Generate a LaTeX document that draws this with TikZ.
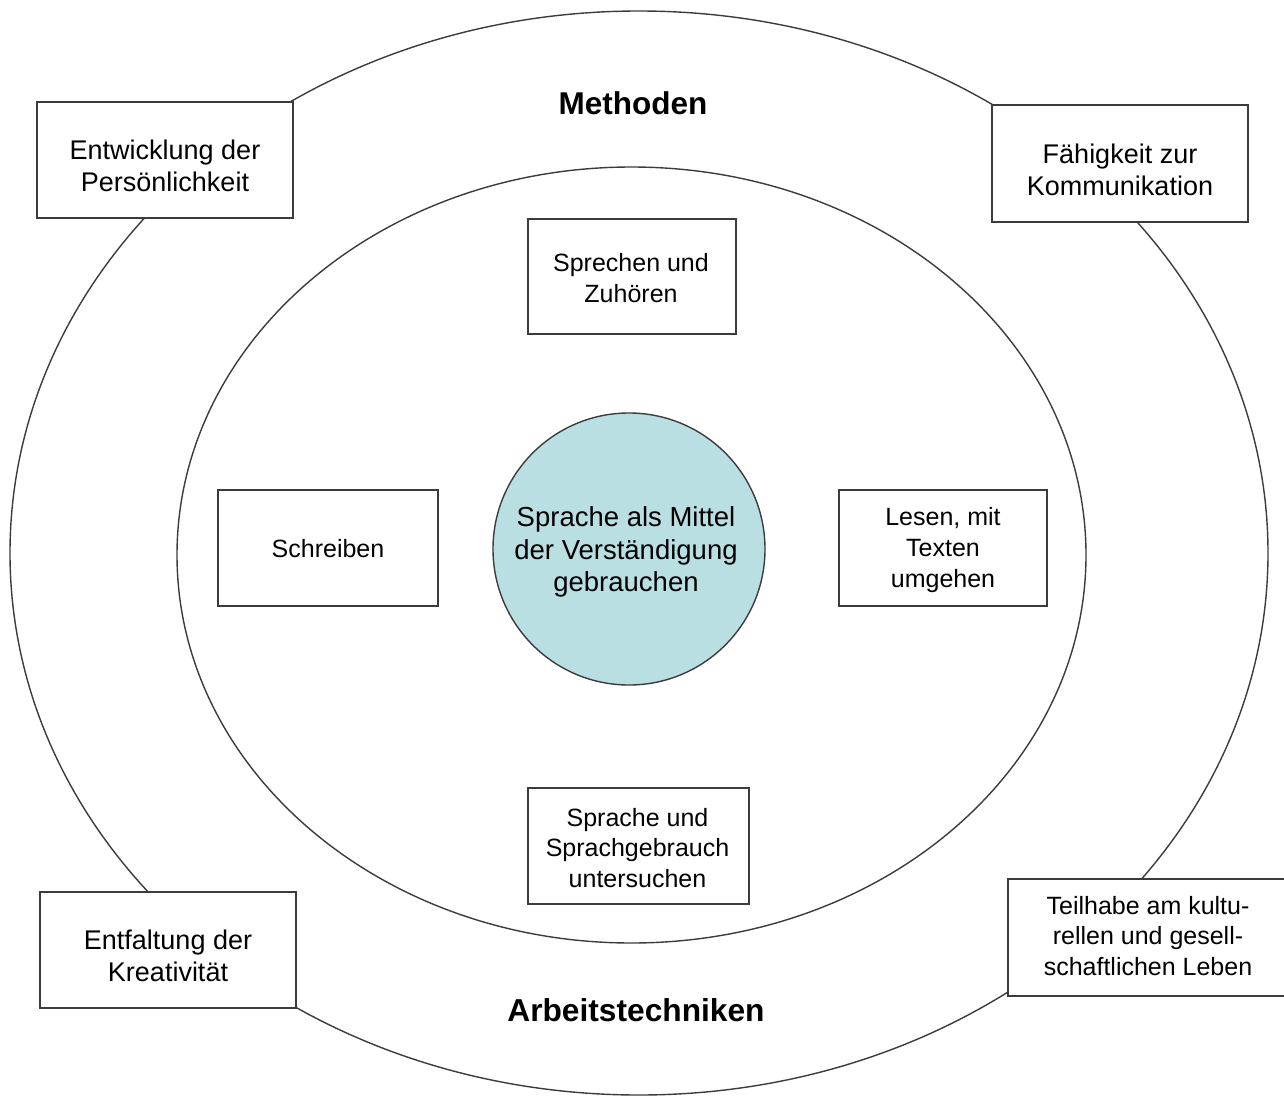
\documentclass[tikz,border=0pt]{standalone}
\usepackage{fontspec}
\setmainfont{Liberation Sans}
\definecolor{lineg}{RGB}{60,60,60}
\definecolor{centerblue}{RGB}{186,223,227}
\begin{document}
\begin{tikzpicture}[x=1pt,y=-1pt,
  ring/.style={draw=lineg,line width=1.4pt},
  topicbox/.style={draw=lineg,line width=1.4pt,fill=white,rectangle,inner sep=0pt},
  boxtext/.style={inner sep=0pt,align=center,font=\fontsize{27}{32}\selectfont},
  smalltext/.style={inner sep=0pt,align=center,font=\fontsize{25}{31}\selectfont},
  heading/.style={font=\fontsize{31.5}{36}\selectfont\bfseries,inner sep=0pt}]
\useasboundingbox (0,0) rectangle (1284,1097);
\fill[white] (0,0) rectangle (1284,1097);
% rings
\draw[ring] (639,553) ellipse [x radius=629, y radius=542];
\draw[ring] (631.5,555) ellipse [x radius=454.5, y radius=388];
% center circle
\node[circle,draw=lineg,line width=1.4pt,fill=centerblue,minimum size=272pt,inner sep=0pt] (center) at (629,549) {};
\node[boxtext,font=\fontsize{27.5}{32.5}\selectfont] (centerT) at (626,552) {Sprache als Mittel\\der Verständigung\\gebrauchen};
% headings
\node[heading] (meth) at (633,103) {Methoden};
\node[heading,font=\fontsize{31.7}{36}\selectfont\bfseries] (arb) at (636,1010) {Arbeitstechniken};
% outer boxes
\node[topicbox,minimum width=256pt,minimum height=116pt] (entw) at (165,160) {};
\node[boxtext] (entwT) at (165,166) {Entwicklung der\\Persönlichkeit};
\node[topicbox,minimum width=256pt,minimum height=117pt] (faeh) at (1120,163.5) {};
\node[boxtext] (faehT) at (1120,169.5) {Fähigkeit zur\\Kommunikation};
\node[topicbox,minimum width=256pt,minimum height=116pt] (entf) at (168,950) {};
\node[boxtext] (entfT) at (168,956) {Entfaltung der\\Kreativität};
\node[topicbox,minimum width=282pt,minimum height=117pt] (teil) at (1149,937.5) {};
\node[smalltext,font=\fontsize{25}{30.5}\selectfont] (teilT) at (1148,936) {Teilhabe am kultu-\\rellen und gesell-\\schaftlichen Leben};
% inner boxes
\node[topicbox,minimum width=208pt,minimum height=115pt] (spre) at (632,276.5) {};
\node[smalltext] (spreT) at (631,278) {Sprechen und\\Zuhören};
\node[topicbox,minimum width=220pt,minimum height=116pt] (schr) at (328,548) {};
\node[smalltext] (schrT) at (328,549) {Schreiben};
\node[topicbox,minimum width=208pt,minimum height=116pt] (lese) at (943,548) {};
\node[smalltext] (leseT) at (943,550) {Lesen, mit\\Texten\\umgehen};
\node[topicbox,minimum width=221pt,minimum height=116pt] (spra) at (638.5,846) {};
\node[smalltext,font=\fontsize{25}{30.5}\selectfont] (spraT) at (637.5,848) {Sprache und\\Sprachgebrauch\\untersuchen};
\end{tikzpicture}
\end{document}
